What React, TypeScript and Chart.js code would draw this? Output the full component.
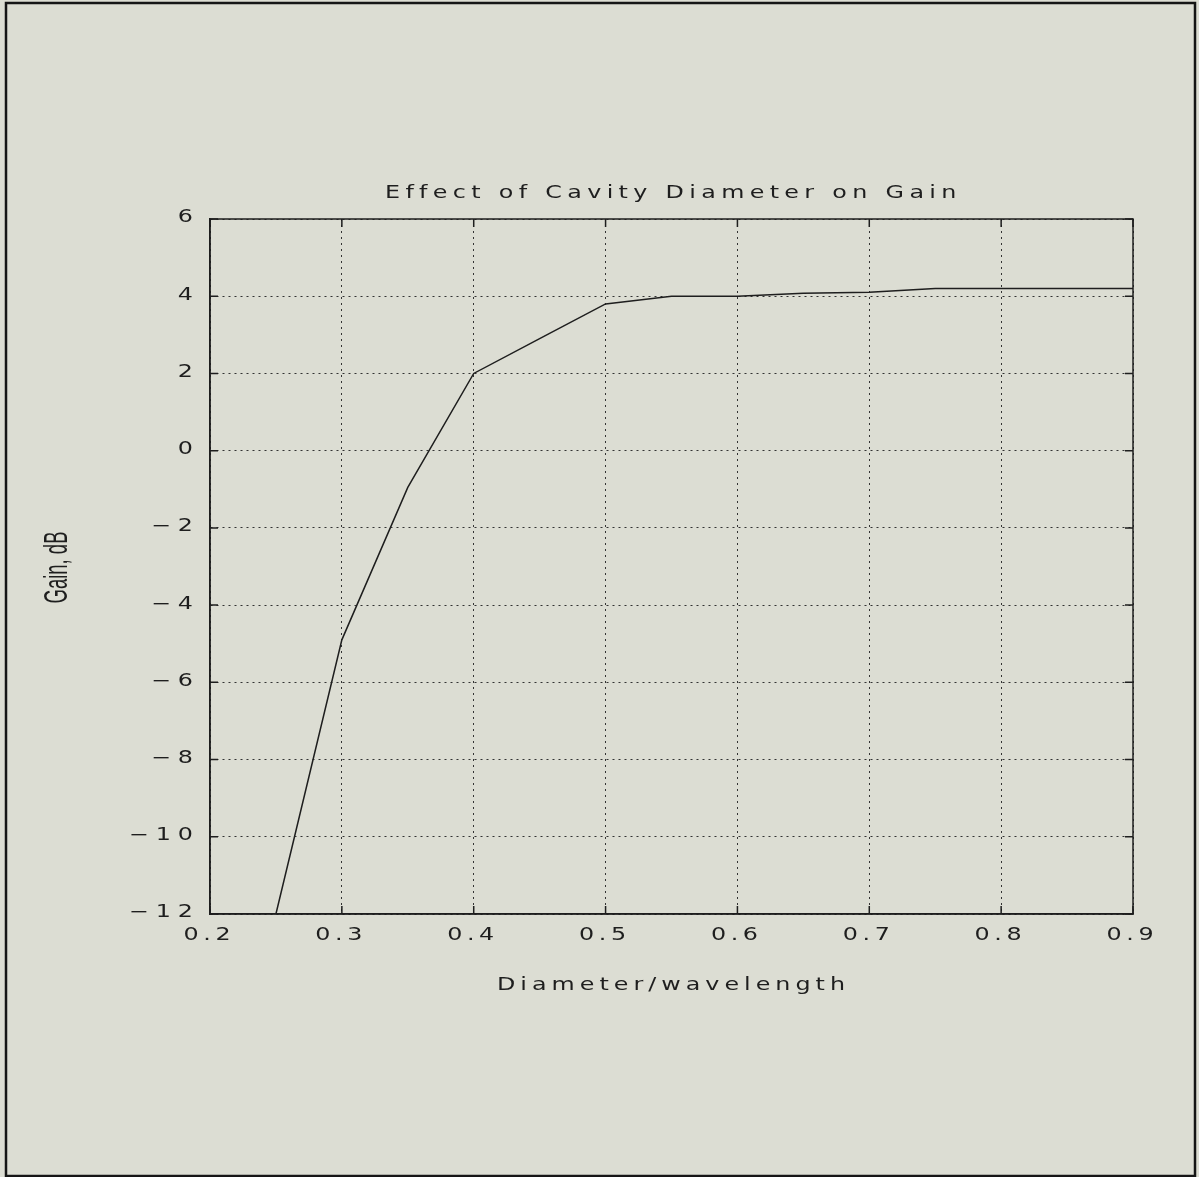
import React, { useEffect, useRef } from "react";
import { Chart, registerables } from "chart.js";

Chart.register(...registerables);

const diameter = [0.25, 0.3, 0.35, 0.4, 0.45, 0.5, 0.55, 0.6, 0.65, 0.7, 0.75, 0.8, 0.85, 0.9];
const gainDb = [-12, -4.9, -0.95, 2.0, 2.9, 3.8, 4.0, 4.0, 4.08, 4.1, 4.2, 4.2, 4.2, 4.2];
const chartTitle = "Effect of Cavity Diameter on Gain";
const xTitle = "Diameter/wavelength";
const yTitle = "Gain, dB";

const BG = "#dcddd3";
const INK = "#1e1e1e";
const FONT = "17px 'DejaVu Sans', 'Liberation Sans', sans-serif";
const SX = 1.4;

function drawStretched(ctx: any, text: string, x: number, y: number, sp: number, align: string) {
  ctx.letterSpacing = "0px";
  ctx.font = FONT;
  const w = ctx.measureText(text).width * SX + sp * (text.length - 1);
  let start = x;
  if (align === "center") start = x - w / 2;
  else if (align === "right") start = x - w;
  ctx.save();
  ctx.translate(start, y);
  ctx.scale(SX, 1);
  ctx.letterSpacing = sp / SX + "px";
  ctx.textAlign = "left";
  ctx.fillText(text, 0, 0);
  ctx.restore();
}

function drawFitted(ctx: any, text: string, x0: number, x1: number, y: number) {
  ctx.letterSpacing = "0px";
  ctx.font = FONT;
  const w = ctx.measureText(text).width * SX;
  const sp = (x1 - x0 - w) / (text.length - 1);
  drawStretched(ctx, text, x0, y, sp, "left");
}

const decorPlugin = {
  id: "decor",
  beforeDraw(chart: any) {
    const ctx = chart.ctx;
    ctx.save();
    ctx.fillStyle = BG;
    ctx.fillRect(0, 0, chart.width, chart.height);
    ctx.strokeStyle = "#151515";
    ctx.lineWidth = 2.5;
    ctx.strokeRect(6, 3, 1189, 1173);
    ctx.restore();
  },
  afterDraw(chart: any) {
    const ctx = chart.ctx;
    const a = chart.chartArea;
    ctx.save();
    ctx.strokeStyle = INK;
    ctx.lineWidth = 1.5;
    ctx.strokeRect(a.left, a.top, a.right - a.left, a.bottom - a.top);
    const ys = chart.scales.y;
    const xs = chart.scales.x;
    ctx.fillStyle = INK;
    ctx.textBaseline = "middle";
    for (const t of ys.ticks) {
      const py = ys.getPixelForValue(t.value);
      ctx.beginPath();
      ctx.moveTo(a.left, py);
      ctx.lineTo(a.left + 8, py);
      ctx.moveTo(a.right, py);
      ctx.lineTo(a.right - 8, py);
      ctx.stroke();
      const label = t.value < 0 ? "\u2212" + Math.abs(t.value) : String(t.value);
      drawStretched(ctx, label, a.left - 17, py - 1, 7, "right");
    }
    for (const t of xs.ticks) {
      const px = xs.getPixelForValue(t.value);
      ctx.beginPath();
      ctx.moveTo(px, a.bottom);
      ctx.lineTo(px, a.bottom - 8);
      ctx.moveTo(px, a.top);
      ctx.lineTo(px, a.top + 8);
      ctx.stroke();
      drawStretched(ctx, Number(t.value).toFixed(1), px - 3, a.bottom + 22, 4.6, "center");
    }
    drawFitted(ctx, chartTitle, 385, 956, a.top - 25);
    drawFitted(ctx, xTitle, 497, 845, a.bottom + 72);
    ctx.letterSpacing = "0px";
    ctx.translate(67, (a.top + a.bottom) / 2 + 1);
    ctx.rotate(-Math.PI / 2);
    ctx.font = `33px 'Liberation Sans', 'DejaVu Sans', sans-serif`;
    ctx.textAlign = "center";
    ctx.textBaseline = "alphabetic";
    const w = ctx.measureText(yTitle).width;
    ctx.scale(72 / w, 1);
    ctx.fillText(yTitle, 0, 0);
    ctx.restore();
  },
};

export default function App() {
  const ref = useRef<HTMLCanvasElement | null>(null);
  useEffect(() => {
    if (!ref.current) return;
    const points = diameter.map((d, i) => ({ x: d, y: gainDb[i] }));
    const chart = new Chart(ref.current, {
      type: "line",
      data: {
        datasets: [
          {
            data: points,
            borderColor: INK,
            borderWidth: 1.5,
            pointRadius: 0,
            tension: 0,
            fill: false,
          },
        ],
      },
      options: {
        animation: false,
        responsive: false,
        maintainAspectRatio: false,
        layout: { padding: { left: 120, top: 219, right: 66, bottom: 183 } },
        plugins: { legend: { display: false }, title: { display: false }, tooltip: { enabled: false } },
        scales: {
          x: {
            type: "linear",
            min: 0.2,
            max: 0.9,
            afterFit: (s: any) => {
              s.height = 80;
            },
            ticks: { stepSize: 0.1, display: false },
            grid: { color: "#333", lineWidth: 1, drawTicks: false },
            border: { display: true, color: INK, width: 1.5, dash: [2, 4] },
          },
          y: {
            type: "linear",
            min: -12,
            max: 6,
            afterFit: (s: any) => {
              s.width = 90;
            },
            ticks: { stepSize: 2, display: false },
            grid: { color: "#333", lineWidth: 1, drawTicks: false },
            border: { display: true, color: INK, width: 1.5, dash: [2, 4] },
          },
        },
      },
      plugins: [decorPlugin],
    });
    return () => chart.destroy();
  }, []);
  return (
    <div style={{ position: "absolute", left: 0, top: 0, width: 1199, height: 1177, background: BG }}>
      <canvas ref={ref} width={1199} height={1177} style={{ display: "block" }} />
    </div>
  );
}
